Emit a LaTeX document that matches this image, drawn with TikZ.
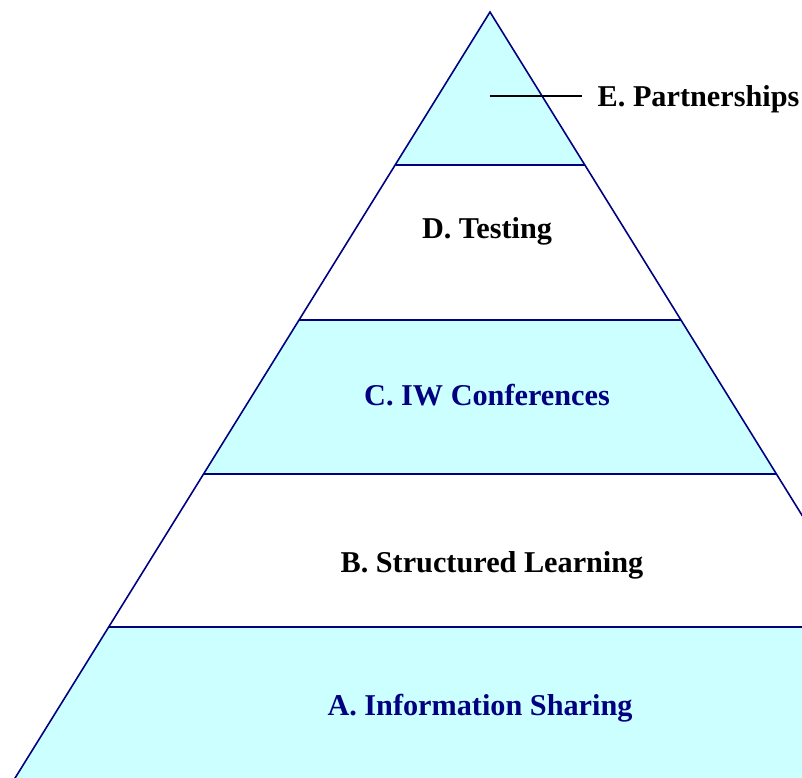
\documentclass[tikz,border=0pt]{standalone}
\usepackage{fontspec}
\setmainfont{Liberation Serif}
\usepackage{tikz}
\usetikzlibrary{positioning, calc}
\definecolor{bandblue}{RGB}{204,255,255}
\definecolor{navyline}{RGB}{0,0,128}

\tikzset{
    level/.style={font=\fontsize{8.6}{10}\selectfont\bfseries, anchor=base, inner sep=0pt},
    edge/.style={draw=navyline, line width=0.45pt}
}

\begin{document}
\begin{tikzpicture}[x=0.01cm, y=-0.01cm]
    \useasboundingbox (0,0) rectangle (802,778);
    \clip (0,0) rectangle (802,778);

    \coordinate (apex) at (490,12);

    % bands of the pyramid, top to bottom
    \foreach \ya/\yb/\c in {
        12/165/bandblue, 165/320/white, 320/474/bandblue,
        474/627/white, 627/800/bandblue}
        \fill[\c] ({490-0.62*(\ya-12)},\ya) -- ({490+0.62*(\ya-12)},\ya)
            -- ({490+0.62*(\yb-12)},\yb) -- ({490-0.62*(\yb-12)},\yb) -- cycle;

    \foreach \y in {165, 320, 474, 627}
        \draw[edge] ({490-0.62*(\y-12)},\y) -- ({490+0.62*(\y-12)},\y);

    \draw[edge] ({490-0.62*788},800) -- (apex) -- ({490+0.62*788},800);

    % labels
    \node[level] (lblD) at (487,238) {D. Testing};
    \node[level, text=navyline] (lblC) at (487,405) {C. IW Conferences};
    \node[level] (lblB) at (492,572) {B. Structured Learning};
    \node[level, text=navyline] (lblA) at (480,715) {A. Information Sharing};

    \coordinate (ptip) at (490,96);
    \node[level, anchor=base west, inner xsep=0.15cm] (lblE) at (582,106) {E. Partnerships};
    \draw[line width=0.45pt] (ptip) -- (ptip -| lblE.west);
\end{tikzpicture}
\end{document}
